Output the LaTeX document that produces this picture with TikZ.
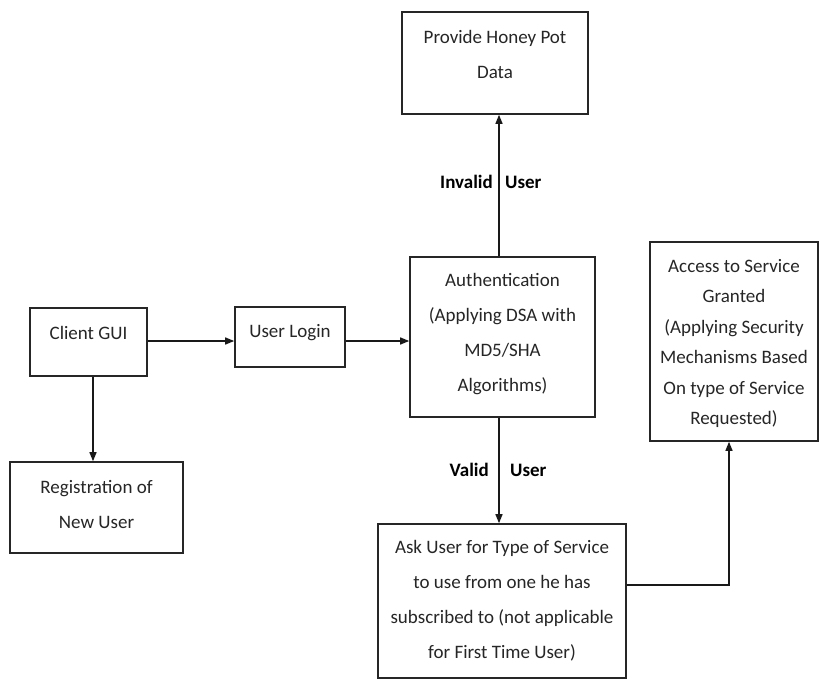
\documentclass[tikz,border=0pt]{standalone}
\usepackage{fontspec}
\setmainfont{Carlito}
\usetikzlibrary{arrows.meta}
\begin{document}
\begin{tikzpicture}[x=1pt,y=-1pt,
  box/.style={draw=black!85, line width=1.6pt, inner sep=0pt},
  txt/.style={align=center, inner sep=0pt, text=black!85, font=\fontsize{19}{35}\selectfont},
  txtb/.style={align=center, inner sep=0pt, text=black!85, font=\fontsize{19}{30.5}\selectfont},
  lbl/.style={inner sep=0pt, font=\fontsize{19}{23}\selectfont\bfseries},
  arr/.style={draw=black!90, line width=1.3pt, -{Triangle[length=9pt,width=7pt]}}]
\useasboundingbox[fill=white] (0,0) rectangle (820,680);
% boxes
\node[box, minimum width=186pt, minimum height=102pt] (hp) at (495,63) {};
\node[box, minimum width=117pt, minimum height=68pt] (gui) at (88.5,342) {};
\node[box, minimum width=110pt, minimum height=60pt] (login) at (290,337) {};
\node[box, minimum width=185pt, minimum height=160pt] (auth) at (502.5,337) {};
\node[box, minimum width=168pt, minimum height=199pt] (acc) at (734,341.5) {};
\node[box, minimum width=248pt, minimum height=154pt] (ask) at (502,601) {};
\node[box, minimum width=173pt, minimum height=91pt] (reg) at (96.5,507.5) {};
% texts
\node[txt] (hpt) at (495,54.5) {Provide Honey Pot\\Data};
\node[txt] (guit) at (88.5,333) {Client GUI};
\node[txt] (logint) at (290,333) {User Login};
\node[txt] (autht) at (502.5,334.5) {Authentication\\(Applying DSA with\\MD5/SHA\\Algorithms)};
\node[txtb] (acct) at (734,343.5) {Access to Service\\Granted\\(Applying Security\\Mechanisms Based\\On type of Service\\Requested)};
\node[txt] (askt) at (502,600.5) {Ask User for Type of Service\\to use from one he has\\subscribed to (not applicable\\for First Time User)};
\node[txt] (regt) at (96.5,504) {Registration of\\New User};
% helper coordinates
\coordinate (vx) at (499,0);
\coordinate (gx) at (93,0);
\coordinate (hy) at (0,341);
\coordinate (ay) at (0,585);
\coordinate (ax) at (729,0);
% connectors
\draw[arr] (gui.east |- hy) -- (login.west |- hy);
\draw[arr] (login.east |- hy) -- (auth.west |- hy);
\draw[arr] (auth.north -| vx) -- (hp.south -| vx);
\draw[arr] (auth.south -| vx) -- (ask.north -| vx);
\draw[arr] (gui.south -| gx) -- (reg.north -| gx);
\draw[arr] (ask.east |- ay) -- (ax |- ay) -- (acc.south -| ax);
% labels
\node[lbl, anchor=east] (inv1) at (493,182) {Invalid};
\node[lbl, anchor=west] (inv2) at (505,182) {User};
\node[lbl, anchor=east] (val1) at (489,470) {Valid};
\node[lbl, anchor=west] (val2) at (510,470) {User};
\end{tikzpicture}
\end{document}
